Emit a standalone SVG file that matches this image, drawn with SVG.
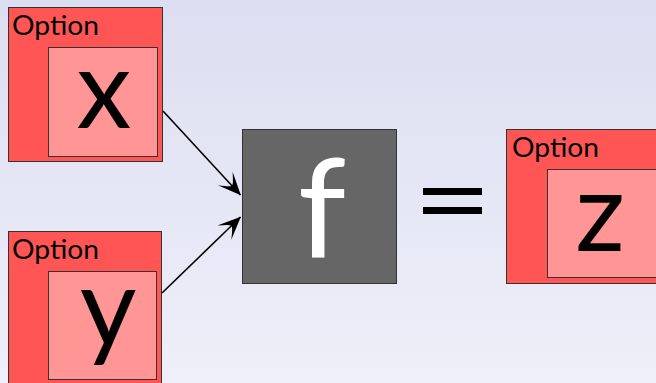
<svg xmlns="http://www.w3.org/2000/svg" width="656" height="383" viewBox="0 0 656 383">
<defs>
<linearGradient id="bg" x1="0" y1="0" x2="0" y2="1">
<stop offset="0" stop-color="#dcdef1"/>
<stop offset="1" stop-color="#efeff9"/>
</linearGradient>
<marker id="ah" viewBox="0 0 24 24" refX="23.5" refY="12" markerWidth="24" markerHeight="24" markerUnits="userSpaceOnUse" orient="auto">
<path d="M24,12 L1,2 Q11,10 11,12 Q11,14 1,22 Z" fill="#000"/>
</marker>
<style>
.outer{fill:#ff5555;stroke:#333;stroke-width:1}
.inner{fill:#ff9595;stroke:#333;stroke-width:1}
.lbl{font-family:Lato,"Open Sans",sans-serif;font-size:26px;fill:#000}
.big{font-family:Lato,"Open Sans",sans-serif;font-size:110px;fill:#000;text-anchor:middle}
.conn{stroke:#000;stroke-width:1.6;fill:none}
</style>
</defs>
<rect width="656" height="383" fill="url(#bg)"/>
<g id="node-x">
<rect class="outer" x="8.5" y="7.5" width="154" height="154"/>
<text class="lbl" x="12" y="35" textLength="87" lengthAdjust="spacingAndGlyphs">Option</text>
<rect class="inner" x="48.5" y="47.5" width="109" height="109"/>
<text class="big" x="104" y="128">x</text>
</g>
<g id="node-y">
<rect class="outer" x="8.5" y="231.5" width="153" height="160"/>
<text class="lbl" x="12" y="259" textLength="87" lengthAdjust="spacingAndGlyphs">Option</text>
<rect class="inner" x="48.5" y="271.5" width="108" height="108"/>
<text class="big" x="108" y="346">y</text>
</g>
<g id="node-f">
<rect x="242.5" y="129.5" width="154" height="154" fill="#666666" stroke="#333"/>
<text class="big" x="322" y="258" style="fill:#fff;font-size:138px">f</text>
</g>
<g id="equals">
<rect x="423" y="188" width="59" height="7" fill="#000"/>
<rect x="423" y="207" width="59" height="7" fill="#000"/>
</g>
<g id="node-z">
<rect class="outer" x="506.5" y="129.5" width="160" height="154"/>
<text class="lbl" x="512" y="157" textLength="87" lengthAdjust="spacingAndGlyphs">Option</text>
<rect class="inner" x="547.5" y="169.5" width="120" height="108"/>
<text class="big" x="600" y="251">z</text>
</g>
<g id="connectors">
<line class="conn" x1="163" y1="111" x2="240.5" y2="195" marker-end="url(#ah)"/>
<line class="conn" x1="162" y1="293" x2="240.5" y2="217" marker-end="url(#ah)"/>
</g>
</svg>
